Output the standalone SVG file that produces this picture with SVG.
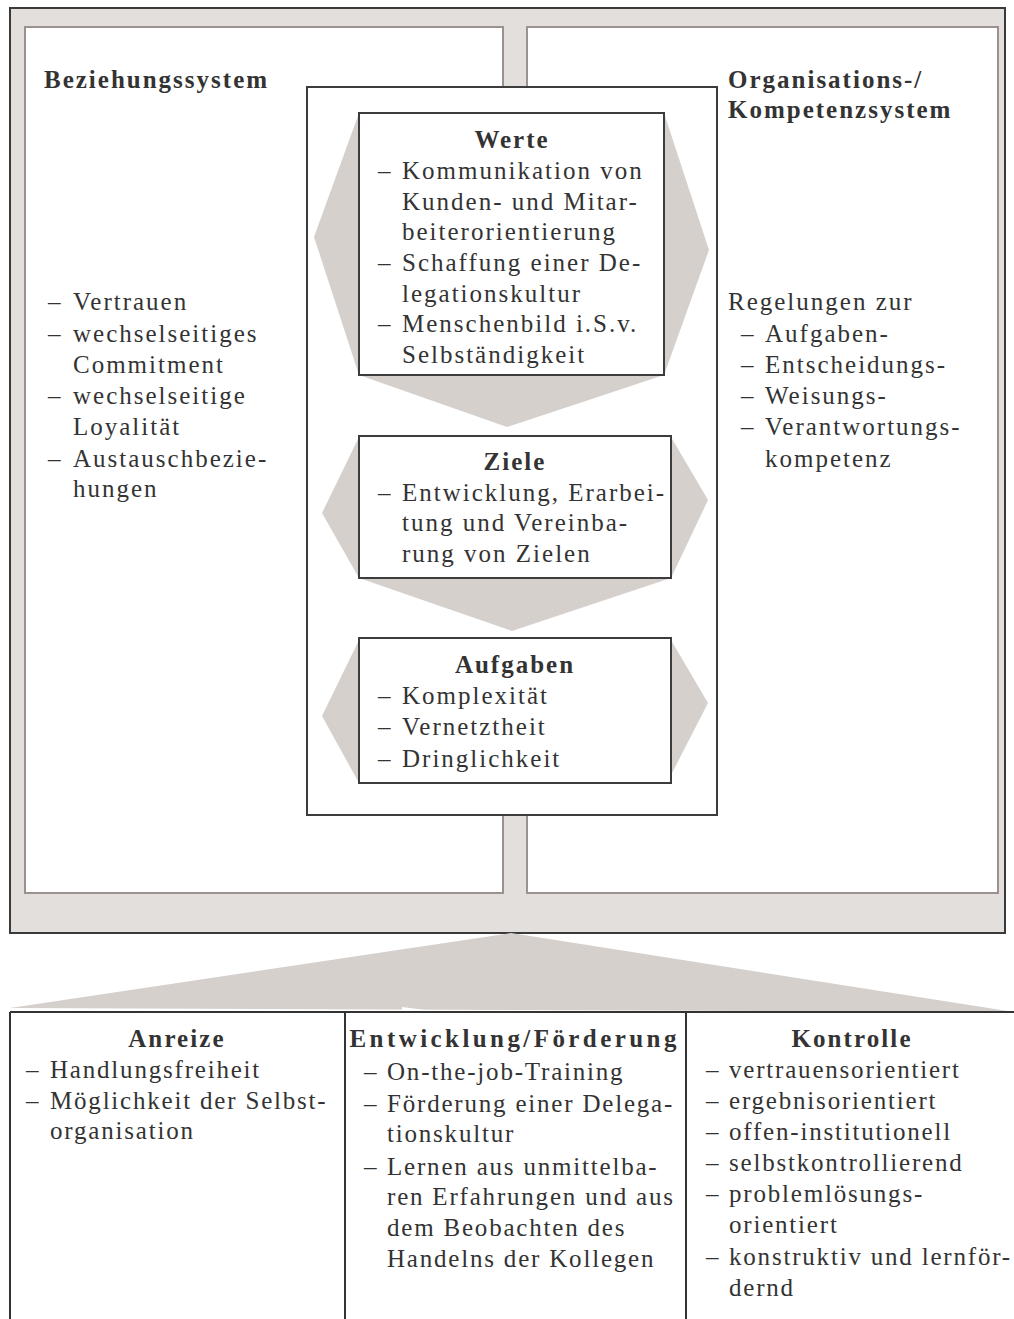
<svg xmlns="http://www.w3.org/2000/svg" width="1014" height="1319" viewBox="0 0 1014 1319">
<style>
text{font-family:"Liberation Serif","Times New Roman",serif;fill:#333;font-size:25px;letter-spacing:2px}
.b{font-weight:bold;letter-spacing:2px}
.c{text-anchor:middle}
.bb{font-weight:bold;letter-spacing:2.1px;text-anchor:middle}
.bt{font-size:25px;letter-spacing:1.8px}
.panel{fill:#fff;stroke:#9b918f;stroke-width:2}
.box{fill:#fff;stroke:#3c3c3c;stroke-width:2}
.arr{fill:#d6d0cd}
.ln{stroke:#333;stroke-width:2;fill:none}
</style>
<rect id="frame" x="10" y="8" width="995" height="925" fill="#e3dfdc" stroke="#3a3a3a" stroke-width="2"/>
<g id="beziehungssystem">
<rect class="panel" x="25" y="27" width="478" height="866"/>
<text class="b" x="44" y="88">Beziehungssystem</text>
<text y="310"><tspan x="48">–</tspan><tspan x="73">Vertrauen</tspan></text>
<text y="342"><tspan x="48">–</tspan><tspan x="73">wechselseitiges</tspan></text>
<text x="73" y="373">Commitment</text>
<text y="404"><tspan x="48">–</tspan><tspan x="73">wechselseitige</tspan></text>
<text x="73" y="435">Loyalität</text>
<text y="467"><tspan x="48">–</tspan><tspan x="73">Austauschbezie-</tspan></text>
<text x="73" y="497">hungen</text>
</g>
<g id="organisationssystem">
<rect class="panel" x="527" y="27" width="471" height="866"/>
<text class="b" x="728" y="88">Organisations-/</text>
<text class="b" x="728" y="118">Kompetenzsystem</text>
<text x="728" y="310">Regelungen zur</text>
<text y="342"><tspan x="741">–</tspan><tspan x="765">Aufgaben-</tspan></text>
<text y="373"><tspan x="741">–</tspan><tspan x="765">Entscheidungs-</tspan></text>
<text y="404"><tspan x="741">–</tspan><tspan x="765">Weisungs-</tspan></text>
<text y="435"><tspan x="741">–</tspan><tspan x="765">Verantwortungs-</tspan></text>
<text x="765" y="467">kompetenz</text>
</g>
<g id="kern">
<rect class="box" x="307" y="87" width="410" height="728"/>
</g>
<g id="werte">
<polygon class="arr" points="359,113 314,237 359,375 507,427 664,375 709,250 664,113"/>
<rect class="box" x="359" y="113" width="305" height="262" stroke-width="1.5"/>
<text class="b c" x="512" y="148">Werte</text>
<text y="179"><tspan x="378">–</tspan><tspan x="402">Kommunikation von</tspan></text>
<text x="402" y="210">Kunden- und Mitar-</text>
<text x="402" y="240">beiterorientierung</text>
<text y="271"><tspan x="378">–</tspan><tspan x="402">Schaffung einer De-</tspan></text>
<text x="402" y="302">legationskultur</text>
<text y="332"><tspan x="378">–</tspan><tspan x="402">Menschenbild i.S.v.</tspan></text>
<text x="402" y="363">Selbständigkeit</text>
</g>
<g id="ziele">
<polygon class="arr" points="359,437 322,513 359,578 512,631 671,578 708,500 671,437"/>
<rect class="box" x="359" y="436" width="312" height="142" stroke-width="1.5"/>
<text class="b c" x="515" y="470">Ziele</text>
<text y="501"><tspan x="378">–</tspan><tspan x="402">Entwicklung, Erarbei-</tspan></text>
<text x="402" y="531">tung und Vereinba-</text>
<text x="402" y="562">rung von Zielen</text>
</g>
<g id="aufgaben">
<polygon class="arr" points="359,640 322,716 359,783 671,783 671,775 708,703 671,640"/>
<rect class="box" x="359" y="638" width="312" height="145" stroke-width="1.5"/>
<text class="b c" x="515" y="673">Aufgaben</text>
<text y="704"><tspan x="378">–</tspan><tspan x="402">Komplexität</tspan></text>
<text y="735"><tspan x="378">–</tspan><tspan x="402">Vernetztheit</tspan></text>
<text y="767"><tspan x="378">–</tspan><tspan x="402">Dringlichkeit</tspan></text>
</g>
<g id="connectors">
<polygon class="arr" points="511,933 1014,1012 10,1008"/>
<polygon points="402,1007 433,1011 402,1011" fill="#fff"/>
</g>
<g id="massnahmen">
<path class="ln" d="M10,1012 H1014 M10,1012 V1319 M345,1012 V1319 M686,1012 V1319"/>
</g>
<g id="anreize">
<text class="bb" x="177" y="1047">Anreize</text>
<text class="bt" y="1078"><tspan x="26">–</tspan><tspan x="50">Handlungsfreiheit</tspan></text>
<text class="bt" y="1109"><tspan x="26">–</tspan><tspan x="50">Möglichkeit der Selbst-</tspan></text>
<text class="bt" x="50" y="1139">organisation</text>
</g>
<g id="entwicklung">
<text class="bb" x="514" y="1047" textLength="329" lengthAdjust="spacing">Entwicklung/Förderung</text>
<text class="bt" y="1080"><tspan x="364">–</tspan><tspan x="387">On-the-job-Training</tspan></text>
<text class="bt" y="1112"><tspan x="364">–</tspan><tspan x="387">Förderung einer Delega-</tspan></text>
<text class="bt" x="387" y="1142">tionskultur</text>
<text class="bt" y="1175"><tspan x="364">–</tspan><tspan x="387">Lernen aus unmittelba-</tspan></text>
<text class="bt" x="387" y="1205">ren Erfahrungen und aus</text>
<text class="bt" x="387" y="1236">dem Beobachten des</text>
<text class="bt" x="387" y="1267">Handelns der Kollegen</text>
</g>
<g id="kontrolle">
<text class="bb" x="852" y="1047">Kontrolle</text>
<text class="bt" y="1078"><tspan x="706">–</tspan><tspan x="729">vertrauensorientiert</tspan></text>
<text class="bt" y="1109"><tspan x="706">–</tspan><tspan x="729">ergebnisorientiert</tspan></text>
<text class="bt" y="1140"><tspan x="706">–</tspan><tspan x="729">offen-institutionell</tspan></text>
<text class="bt" y="1171"><tspan x="706">–</tspan><tspan x="729">selbstkontrollierend</tspan></text>
<text class="bt" y="1202"><tspan x="706">–</tspan><tspan x="729">problemlösungs-</tspan></text>
<text class="bt" x="729" y="1233">orientiert</text>
<text class="bt" y="1265"><tspan x="706">–</tspan><tspan x="729">konstruktiv und lernför-</tspan></text>
<text class="bt" x="729" y="1296">dernd</text>
</g>
</svg>
